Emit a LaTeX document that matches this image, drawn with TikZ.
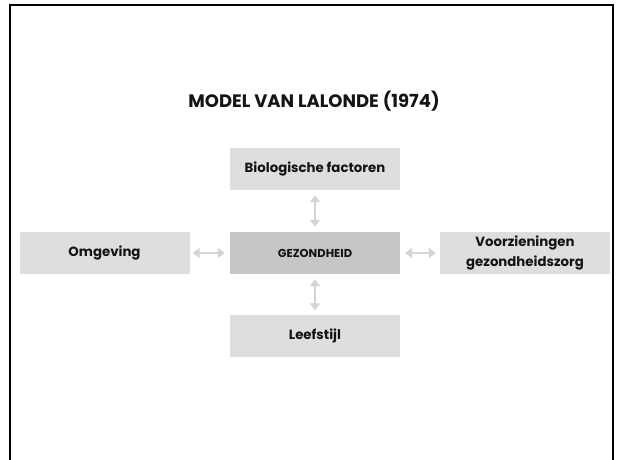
\documentclass[tikz,border=0pt]{standalone}
\usepackage{fontspec}
\setmainfont{Poppins}
\usetikzlibrary{arrows.meta}
\definecolor{boxgray}{HTML}{DEDEDE}
\definecolor{centergray}{HTML}{C6C6C6}
\definecolor{arrowgray}{HTML}{D4D4D4}
\definecolor{textdark}{HTML}{141414}
\tikzset{
  factor/.style={fill=boxgray, draw=none, minimum width=170pt, minimum height=42pt,
    inner sep=0pt, align=center, text=textdark,
    font=\fontsize{13.3}{19.5}\selectfont\bfseries},
  center box/.style={factor, fill=centergray, font=\fontsize{11.5}{13}\selectfont\bfseries},
  link/.style={draw=arrowgray, line width=2.2pt,
    {Triangle[length=7pt,width=10pt]}-{Triangle[length=7pt,width=10pt]}},
}
\begin{document}
\begin{tikzpicture}[x=1pt,y=-1pt]
  \useasboundingbox (0,0) rectangle (620,459);
  \fill[white] (0,0) rectangle (620,459);
  % slide frame, open at the bottom
  \draw[line width=2.5pt, black] (10,470) -- (10,5) -- (613,5) -- (613,470);

  \node[font=\fontsize{18}{21}\selectfont\bfseries, text=textdark] (title) at (314,101) {MODEL VAN LALONDE (1974)};

  \node[factor] (bio) at (315,169) {Biologische factoren};
  \node[center box] (health) at (315,253) {GEZONDHEID};
  \node[factor] (env) at (104.5,253) {Omgeving};
  \node[factor] (care) at (525,253) {Voorzieningen\\gezondheidszorg};
  \node[factor] (life) at (315,335.5) {Leefstijl};

  \draw[link] ([yshift=-5pt]bio.south) -- ([yshift=5pt]health.north);
  \draw[link] ([yshift=-5pt]health.south) -- ([yshift=4pt]life.north);
  \draw[link] ([xshift=3pt]env.east) -- ([xshift=-5pt]health.west);
  \draw[link] ([xshift=5pt]health.east) -- ([xshift=-4pt]care.west);
\end{tikzpicture}
\end{document}
